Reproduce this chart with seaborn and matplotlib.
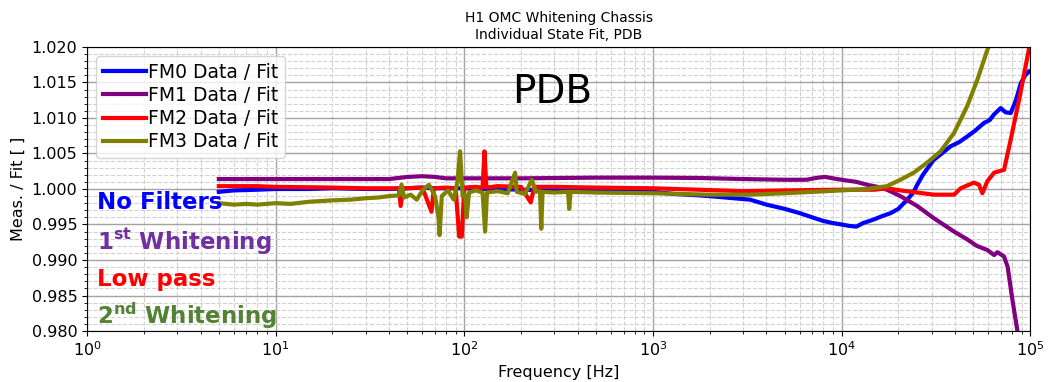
import numpy as np
import pandas as pd
import seaborn as sns
import matplotlib
matplotlib.use('Agg')
import matplotlib.pyplot as plt
from matplotlib.ticker import MultipleLocator, LogLocator, NullFormatter

# FM0 - no filters
fm0_freq = [5, 6, 8, 10, 15, 20, 30, 40, 50, 60, 70, 80, 100, 120, 150, 200, 300, 400, 500,
            700, 1000, 1300, 1770, 2200, 2670, 3275, 4000, 5000, 6000, 7000, 8000, 9000, 10000,
            11000, 12000, 13000, 14800, 16500, 18200, 20000, 22300, 24000, 25200, 27000, 30800,
            34000, 37800, 42000, 46400, 51000, 56900, 61000, 64300, 69800, 74000, 78900, 84000,
            89200, 94000, 98800, 100000]
fm0_ratio = [0.9996, 0.9998, 0.9999, 1.0000, 1.0000, 1.0001, 1.0000, 1.0000, 1.0001, 1.0002,
             1.0001, 1.0001, 1.0001, 1.0000, 1.0000, 0.9999, 0.9998, 0.9998, 0.9998, 0.9997,
             0.9996, 0.9993, 0.9991, 0.9989, 0.9987, 0.9985, 0.9978, 0.9972, 0.9966, 0.9960,
             0.9955, 0.9952, 0.9950, 0.9948, 0.9947, 0.9952, 0.9957, 0.9962, 0.9966, 0.9972,
             0.9985, 0.9995, 1.0006, 1.0020, 1.0041, 1.0050, 1.0060, 1.0066, 1.0074, 1.0082,
             1.0093, 1.0097, 1.0105, 1.0114, 1.0108, 1.0107, 1.0125, 1.0149, 1.0160, 1.0166,
             1.0165]

# FM1 - 1st whitening
fm1_freq = [5, 10, 20, 40, 50, 60, 70, 80, 100, 200, 500, 1000, 1770, 3000, 5000, 6500, 7500,
            8200, 9000, 10000, 12000, 13640, 15500, 17400, 20500, 25200, 30800, 39500, 46400,
            52000, 59300, 64400, 67000, 72700, 76000, 80500, 85700, 88000]
fm1_ratio = [1.0014, 1.0014, 1.0014, 1.0014, 1.0017, 1.0018, 1.0017, 1.0015, 1.0015, 1.0015,
             1.0016, 1.0016, 1.00155, 1.0014, 1.0013, 1.0013, 1.0016, 1.0017, 1.0015, 1.0013,
             1.0010, 1.0006, 1.0003, 0.9999, 0.9990, 0.9976, 0.9959, 0.9940, 0.9929, 0.9920,
             0.9914, 0.9907, 0.9911, 0.9905, 0.9890, 0.9844, 0.9799, 0.9780]

# FM2 - low pass
fm2_freq = [5, 8, 10, 20, 30, 45, 46, 47.5, 60, 67, 69, 80, 90, 94, 97, 100, 115, 125, 128,
            131, 150, 200, 225, 235, 300, 500, 1000, 3000, 5000, 10000, 15000, 17400, 20500,
            25200, 30800, 39500, 42800, 50300, 53500, 55800, 59300, 64400, 72700, 78900, 87400,
            98800, 100000]
fm2_ratio = [1.0004, 1.0004, 1.0003, 1.0002, 1.0001, 1.0001, 0.9976, 1.0001, 1.0002, 0.9968,
             1.0001, 1.0002, 1.0001, 0.9933, 0.9933, 1.0002, 1.0003, 1.0002, 1.0053, 1.0002,
             1.0004, 1.0003, 0.9981, 1.0003, 1.0003, 1.0002, 1.0001, 0.9997, 0.9998, 0.9999,
             0.9999, 1.0001, 0.9998, 0.9995, 0.9992, 0.9992, 1.0001, 1.0009, 1.0006, 0.9994,
             1.0011, 1.0023, 1.0027, 1.0070, 1.0126, 1.0199, 1.0210]

# FM3 - 2nd whitening
fm3_freq = [5, 6, 7, 8, 10, 12, 15, 20, 25, 30, 35, 40, 45, 46.5, 48, 52, 56, 60, 65, 70, 73,
            74, 76, 82, 88, 92, 95, 98, 101, 103, 106, 115, 125, 129, 132, 150, 170, 186, 190,
            210, 228, 240, 252, 256, 260, 300, 355, 360, 366, 500, 1000, 2000, 3275, 5000, 10000,
            13600, 17400, 20500, 24150, 28400, 33500, 39500, 46400, 52500, 59300, 61600]
fm3_ratio = [0.9980, 0.9978, 0.9979, 0.9978, 0.9980, 0.9979, 0.9982, 0.9984, 0.9985, 0.9987,
             0.9988, 0.9990, 0.9991, 1.0006, 0.9988, 0.9992, 0.9985, 0.9998, 1.0006, 0.9990,
             0.9960, 0.9935, 0.9990, 0.9998, 0.9985, 1.0010, 1.0053, 0.9990, 0.9992, 0.9960,
             0.9995, 0.9998, 0.9995, 0.9940, 0.9995, 0.9997, 0.9994, 1.0023, 0.9996, 0.9993,
             1.0013, 0.9996, 0.9997, 0.9944, 0.9996, 0.9995, 0.9996, 0.9972, 0.9996, 0.9995,
             0.9994, 0.9992, 0.9992, 0.9994, 0.9998, 1.0000, 1.0004, 1.0013, 1.0023, 1.0037,
             1.0053, 1.0079, 1.0117, 1.0154, 1.0196, 1.0205]

series = [
    ('FM0 Data / Fit', fm0_freq, fm0_ratio, 'blue'),
    ('FM1 Data / Fit', fm1_freq, fm1_ratio, 'purple'),
    ('FM2 Data / Fit', fm2_freq, fm2_ratio, 'red'),
    ('FM3 Data / Fit', fm3_freq, fm3_ratio, 'olive'),
]

notes = [
    ('No Filters', '#0000ff', 0.454),
    (r'1$^{\mathbf{st}}$ Whitening', '#7030a0', 0.317),
    ('Low pass', '#ff0000', 0.183),
    (r'2$^{\mathbf{nd}}$ Whitening', '#548235', 0.053),
]

fig, ax = plt.subplots(figsize=(10.48, 3.82), dpi=100)
fig.subplots_adjust(left=0.083, right=0.983, bottom=0.1335, top=0.877)

for label, f, r, c in series:
    sns.lineplot(x=f, y=r, ax=ax, color=c, lw=3, label=label, estimator=None, sort=False)

ax.set_xscale('log')
ax.set_xlim(1, 1e5)
ax.set_ylim(0.980, 1.020)
ax.yaxis.set_major_locator(MultipleLocator(0.005))
ax.yaxis.set_minor_locator(MultipleLocator(0.001))
ax.yaxis.set_major_formatter(matplotlib.ticker.FormatStrFormatter('%.3f'))
ax.xaxis.set_major_locator(LogLocator(base=10, numticks=10))
ax.xaxis.set_minor_locator(LogLocator(base=10, subs=np.arange(2, 10), numticks=20))
ax.xaxis.set_minor_formatter(NullFormatter())
ax.tick_params(labelsize=11.5)

ax.grid(True, which='major', color='0.55', lw=1, alpha=0.8)
ax.grid(True, which='minor', color='0.82', ls='--', lw=0.8)
ax.set_axisbelow(True)

ax.set_xlabel('Frequency [Hz]', fontsize=11.5)
ax.set_ylabel('Meas. / Fit [ ]', fontsize=11.5)
ax.set_title('H1 OMC Whitening Chassis\nIndividual State Fit, PDB', fontsize=10)

ax.legend(loc='upper left', fontsize=13.5, labelspacing=0.22, handlelength=2.3,
          handletextpad=0.1, borderpad=0.35)

ax.text(0.493, 0.842, 'PDB', transform=ax.transAxes, fontsize=28, ha='center', va='center')
for txt, c, yy in notes:
    ax.text(0.0106, yy, txt, transform=ax.transAxes, fontsize=16.5, fontweight='bold',
            color=c, ha='left', va='center')

plt.savefig('out.png', dpi=100)
